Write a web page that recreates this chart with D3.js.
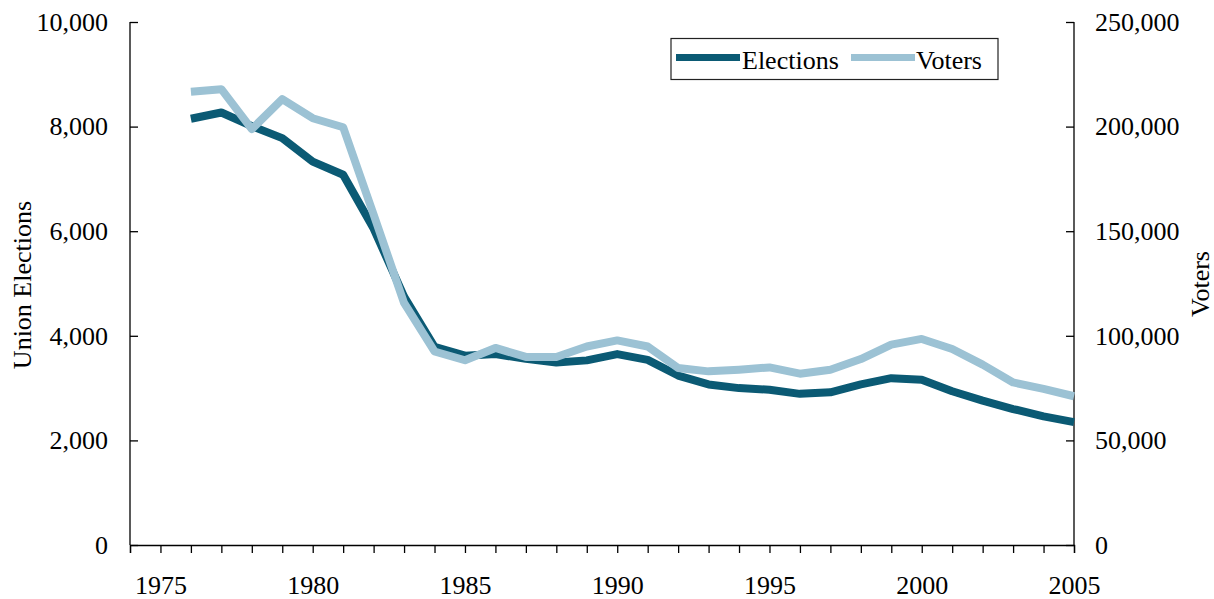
<!DOCTYPE html>
<html>
<head>
<meta charset="utf-8">
<script src="https://cdn.jsdelivr.net/npm/d3@7"></script>
<style>
  body { margin: 0; background: #fff; }
  svg text { font-family: "Liberation Serif", "Times New Roman", serif; font-size: 26px; fill: #000; }
</style>
</head>
<body>
<div id="chart"></div>
<script>
// data
var years = [1976, 1977, 1978, 1979, 1980, 1981, 1982, 1983, 1984, 1985,
             1986, 1987, 1988, 1989, 1990, 1991, 1992, 1993, 1994, 1995,
             1996, 1997, 1998, 1999, 2000, 2001, 2002, 2003, 2004, 2005];
var elections = [8150, 8270, 8010, 7780, 7330, 7080, 6050, 4750, 3790, 3620,
                 3650, 3560, 3490, 3530, 3650, 3540, 3240, 3070, 3000, 2970,
                 2890, 2920, 3070, 3190, 3160, 2940, 2760, 2600, 2460, 2350];
var voters = [216700, 217900, 198800, 213100, 204000, 199700, 158000, 115700, 92500, 88300,
              94200, 89900, 89900, 94900, 97800, 94900, 84600, 83000, 83800, 84900,
              81900, 83800, 88900, 95800, 98500, 93700, 86200, 77700, 74600, 71100];
var leftTicks = [0, 2000, 4000, 6000, 8000, 10000];
var rightTicks = [0, 50000, 100000, 150000, 200000, 250000];
var yearLabels = [1975, 1980, 1985, 1990, 1995, 2000, 2005];

var W = 1214, H = 599;
var margin = {top: 22, right: 140, bottom: 54, left: 130},
    width = W - margin.left - margin.right,
    height = H - margin.top - margin.bottom;

var svg = d3.select("#chart").append("svg")
  .attr("width", W).attr("height", H);
var g = svg.append("g")
  .attr("transform", "translate(" + margin.left + "," + margin.top + ")");

var x = d3.scaleLinear().domain([1974, 2005]).range([0, width]);
var yL = d3.scaleLinear().domain([0, 10000]).range([height, 0]);
var yR = d3.scaleLinear().domain([0, 250000]).range([height, 0]);

var fmt = d3.format(",");

// axes
var xAxis = d3.axisBottom(x)
  .tickValues(d3.range(1974, 2006))
  .tickSize(8)
  .tickFormat(function(d) { return yearLabels.indexOf(d) >= 0 ? d : ""; });
var gx = g.append("g").attr("transform", "translate(0," + height + ")").call(xAxis);
gx.selectAll("text").attr("y", 28).attr("dy", "0.8em");

var gl = g.append("g").call(d3.axisRight(yL).tickValues(leftTicks).tickSize(8).tickFormat(fmt));
gl.selectAll("text").attr("x", -22).style("text-anchor", "end");

var gr = g.append("g").attr("transform", "translate(" + width + ",0)")
  .call(d3.axisLeft(yR).tickValues(rightTicks).tickSize(8).tickFormat(fmt));
gr.selectAll("text").attr("x", 21).style("text-anchor", "start");

// drop d3's default sans-serif 10px so the css font applies
[gx, gl, gr].forEach(function(a) {
  a.attr("font-family", null).attr("font-size", null);
  a.select(".domain").attr("stroke", "#000").attr("stroke-width", 1.3);
  a.selectAll(".tick line").attr("stroke", "#000").attr("stroke-width", 1.3);
});
gl.select(".domain").attr("d", "M0," + height + "V0");
gr.select(".domain").attr("d", "M0," + height + "V0");

// axis titles
svg.append("text")
  .attr("transform", "translate(31," + 285 + ") rotate(-90)")
  .style("text-anchor", "middle")
  .text("Union Elections");
svg.append("text")
  .attr("transform", "translate(1209," + 284 + ") rotate(-90)")
  .style("text-anchor", "middle")
  .text("Voters");

// lines
var lineE = d3.line().x(function(d, i) { return x(years[i]); }).y(function(d) { return yL(d); });
var lineV = d3.line().x(function(d, i) { return x(years[i]); }).y(function(d) { return yR(d); });

g.append("path").datum(elections)
  .attr("d", lineE).attr("fill", "none")
  .attr("stroke", "#0b5a74").attr("stroke-width", 8).attr("stroke-linejoin", "round");
g.append("path").datum(voters)
  .attr("d", lineV).attr("fill", "none")
  .attr("stroke", "#9cc2d4").attr("stroke-width", 8).attr("stroke-linejoin", "round");

// legend
var lg = svg.append("g").attr("transform", "translate(671,38.5)");
lg.append("rect").attr("width", 327).attr("height", 41)
  .attr("fill", "#fff").attr("stroke", "#222").attr("stroke-width", 1.2);
lg.append("line").attr("x1", 5).attr("x2", 69).attr("y1", 19).attr("y2", 19)
  .attr("stroke", "#0b5a74").attr("stroke-width", 7);
lg.append("text").attr("x", 71).attr("y", 30.5).text("Elections");
lg.append("line").attr("x1", 180).attr("x2", 244).attr("y1", 19).attr("y2", 19)
  .attr("stroke", "#9cc2d4").attr("stroke-width", 7);
lg.append("text").attr("x", 245).attr("y", 30.5).text("Voters");
</script>
</body>
</html>
